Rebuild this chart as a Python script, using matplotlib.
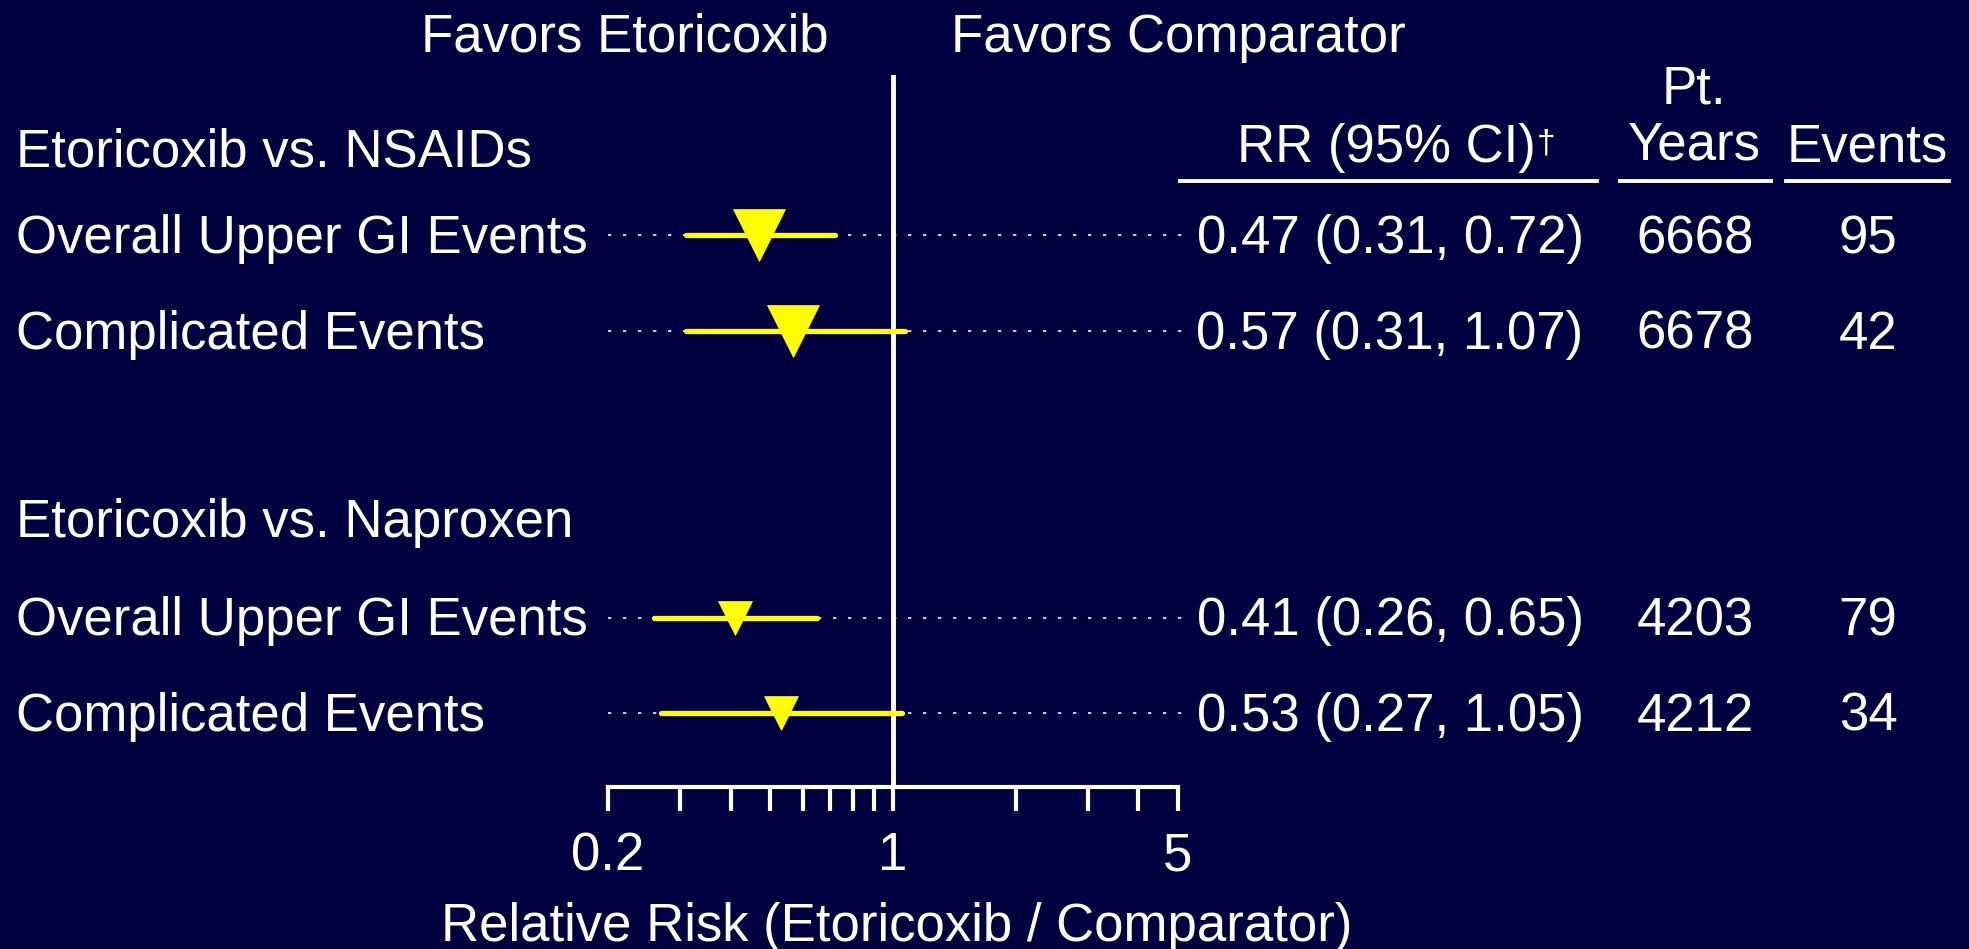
import matplotlib
matplotlib.use("Agg")
import matplotlib.pyplot as plt
from matplotlib.transforms import blended_transform_factory
from matplotlib.lines import Line2D

# ---- data ----
group_titles = ["Etoricoxib vs. NSAIDs", "Etoricoxib vs. Naproxen"]
row_labels = ["Overall Upper GI Events", "Complicated Events",
              "Overall Upper GI Events", "Complicated Events"]
row_group = [0, 0, 1, 1]
rr = [0.47, 0.57, 0.41, 0.53]
ci_low = [0.31, 0.31, 0.26, 0.27]
ci_high = [0.72, 1.07, 0.65, 1.05]
pt_years = [6668, 6678, 4203, 4212]
events = [95, 42, 79, 34]
major_ticks = [0.2, 1, 5]
major_tick_labels = ["0.2", "1", "5"]
minor_ticks = [0.3, 0.4, 0.5, 0.6, 0.7, 0.8, 0.9, 2, 3, 4]

# ---- style ----
BG = "#000040"
FG = "white"
YELLOW = "#FFFF00"
FS = 38
W, H, DPI = 1969, 949, 100
plt.rcParams["font.family"] = ["Liberation Sans", "DejaVu Sans"]

fig = plt.figure(figsize=(W / DPI, H / DPI), dpi=DPI, facecolor=BG)

# axes placement in pixels: x from RR 0.2 to RR 5, y from top of reference line to axis
ax_left, ax_right, ax_top, ax_bottom = 608, 1178, 75, 787
ax = fig.add_axes([ax_left / W, 1 - ax_bottom / H,
                   (ax_right - ax_left) / W, (ax_bottom - ax_top) / H])
ax.set_facecolor(BG)
ax.set_xscale("log")
ax.set_xlim(0.2, 5)

# vertical slots: group title, rows..., blank, group title, rows...
slot_px0, slot_step = 140.0, 95.5
ax.set_ylim((ax_bottom - slot_px0) / slot_step, (ax_top - slot_px0) / slot_step)

row_slots = []
title_slots = []
slot = 0
for g in range(len(group_titles)):
    if g > 0:
        slot += 1  # blank spacer
    title_slots.append(slot)
    slot += 1
    for i, grp in enumerate(row_group):
        if grp == g:
            row_slots.append(slot)
            slot += 1

marker_sizes = [38, 38, 24, 24]

for i in range(len(rr)):
    y = row_slots[i]
    ax.plot([0.2, 5.1], [y, y], color="#C8C8D8", lw=1.5,
            dashes=(1.6, 5.6), zorder=1, clip_on=False)
    ax.plot([ci_low[i], ci_high[i]], [y, y], color=YELLOW, lw=3.8,
            solid_capstyle="round", zorder=4)
    ax.plot([rr[i]], [y], marker="v", ms=marker_sizes[i], color=YELLOW,
            mec=YELLOW, mew=0.5, zorder=5, linestyle="none")

ax.axvline(1, color=FG, lw=3.5, zorder=3)

for s in ["top", "right", "left"]:
    ax.spines[s].set_visible(False)
ax.spines["bottom"].set_color(FG)
ax.spines["bottom"].set_linewidth(3)
ax.set_yticks([])
ax.set_xticks(major_ticks)
ax.set_xticklabels(major_tick_labels)
ax.set_xticks(minor_ticks, minor=True)
ax.xaxis.set_minor_formatter(plt.NullFormatter())
ax.tick_params(axis="x", which="both", direction="out", length=17, width=3,
               color=FG, labelcolor=FG, labelsize=FS, pad=15)

# ---- text ----
tr = blended_transform_factory(fig.transFigure, ax.transData)
dy = 4.0 / slot_step  # nudge text so glyph bodies sit on the row lines

title_offsets = [0.09, -0.03]
for g, title in enumerate(group_titles):
    ax.text(16 / W, title_slots[g] + title_offsets[g] + dy, title, transform=tr,
            color=FG, fontsize=FS, ha="left", va="center", clip_on=False)

for i, lab in enumerate(row_labels):
    y = row_slots[i] + dy
    ax.text(16 / W, y, lab, transform=tr, color=FG, fontsize=FS,
            ha="left", va="center", clip_on=False)
    ax.text(1390 / W, y, f"{rr[i]:.2f} ({ci_low[i]:.2f}, {ci_high[i]:.2f})",
            transform=tr, color=FG, fontsize=FS, ha="center", va="center",
            clip_on=False)
    ax.text(1695 / W, y, f"{pt_years[i]}", transform=tr, color=FG,
            fontsize=FS, ha="center", va="center", clip_on=False)
    ax.text(1868 / W, y, f"{events[i]}", transform=tr, color=FG,
            fontsize=FS, ha="center", va="center", clip_on=False)


def fy(px):
    return 1 - (px + 4) / H


fig.text(829 / W, fy(34), "Favors Etoricoxib", color=FG, fontsize=FS,
         ha="right", va="center")
fig.text(951 / W, fy(34), "Favors Comparator", color=FG, fontsize=FS,
         ha="left", va="center")

rr_hdr = fig.text(1386 / W, fy(144), "RR (95% CI)", color=FG, fontsize=FS,
                  ha="center", va="center")
ax.annotate("\u2020", xy=(1, 1), xycoords=rr_hdr, xytext=(1, -4),
            textcoords="offset points", color=FG, fontsize=24,
            ha="left", va="top")
fig.text(1694 / W, fy(85), "Pt.", color=FG, fontsize=FS, ha="center", va="center")
fig.text(1694 / W, fy(142), "Years", color=FG, fontsize=FS, ha="center", va="center")
fig.text(1867 / W, fy(144), "Events", color=FG, fontsize=FS, ha="center", va="center")

for x0, x1 in [(1180, 1597), (1620, 1771), (1786, 1949)]:
    fig.add_artist(Line2D([x0 / W, x1 / W], [1 - 181 / H, 1 - 181 / H],
                          transform=fig.transFigure, color=FG, lw=2.8))

fig.text(897 / W, fy(923), "Relative Risk (Etoricoxib / Comparator)",
         color=FG, fontsize=FS, ha="center", va="center")

fig.savefig("out.png", dpi=DPI, facecolor=BG)
